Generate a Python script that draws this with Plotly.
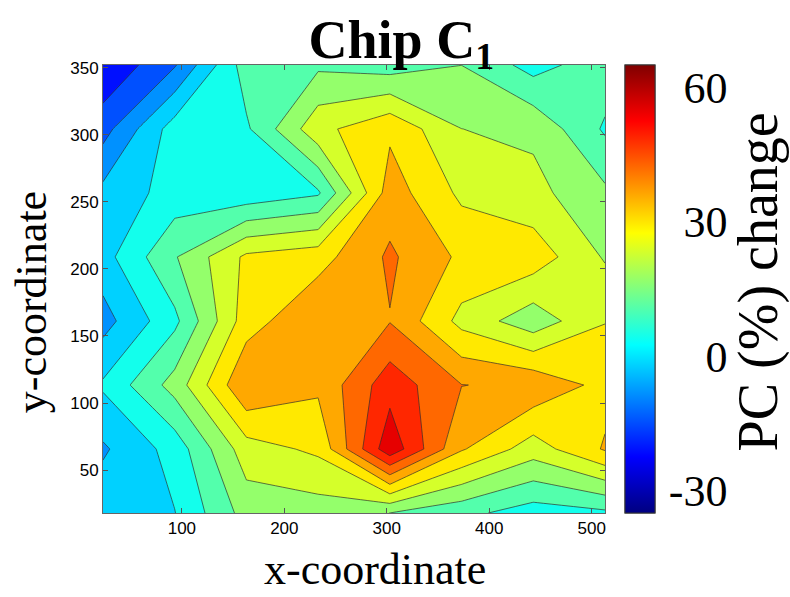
import plotly.graph_objects as go

# ---------------- data ----------------
x_coords = [23, 93, 163, 233, 303, 373, 443, 513]
y_coords = [18, 65.7, 113.4, 161.1, 208.9, 256.6, 304.3, 352]

# PC (%) change, one list per y row (bottom -> top)
pc_y18  = [-0.7,  1.0, 16.4, 17.0, 13.8,  9.4,  4.3,  6.2]
pc_y66  = [-6.1,  3.7, 23.7, 27.8, 56.3, 33.5, 23.3, 33.5]
pc_y113 = [ 2.1, 16.4, 38.9, 34.1, 49.3, 39.3, 37.9, 30.7]
pc_y161 = [-7.7,  5.9, 29.9, 38.6, 38.9, 24.5, 16.2, 26.3]
pc_y209 = [-1.3, 13.3, 27.8, 30.3, 40.2, 31.6, 30.2, 19.5]
pc_y257 = [-3.3,  3.7,  3.1,  6.6, 36.0, 25.2, 22.1, 15.1]
pc_y304 = [-14.0, 4.3,  6.5, 24.6, 31.6, 20.2, 18.9,  6.6]
pc_y352 = [-23.5, -12.1, 10.7, 12.6, 10.7, 13.8,  5.0, 11.3]

z_rows = [pc_y18, pc_y66, pc_y113, pc_y161, pc_y209, pc_y257, pc_y304, pc_y352]

x_ticks = [100, 200, 300, 400, 500]
y_ticks = [50, 100, 150, 200, 250, 300, 350]
cbar_ticks = [-30, 0, 30, 60]
# U+2004 (1/3 em) pads to the hyphen width, U+2007 to a digit width: right-aligned look
cbar_ticktext = ["-30", "\u2004\u20070", "\u200430", "\u200460"]
cbar_minor_ticks = [-23.8, -12.7, -1.5, 9.6, 20.6, 31.7, 42.9, 54.3]

c_min, c_max = -35, 65
lvl_start, lvl_size, n_levels = -17.83, 6.333, 12

# ---------------- colours ----------------
def jet(p):
    r = min(max(1.5 - abs(4 * p - 3), 0), 1)
    g = min(max(1.5 - abs(4 * p - 2), 0), 1)
    b = min(max(1.5 - abs(4 * p - 1), 0), 1)
    return f"rgb({round(255 * r)},{round(255 * g)},{round(255 * b)})"

jet_scale = [[p, jet(p)] for p in (0, 0.125, 0.375, 0.625, 0.875, 1)]
# one colour per filled band, taken from the jet map at the band centre
band_scale = []
for k in range(n_levels + 1):
    v = lvl_start - lvl_size / 2 + k * lvl_size
    band_scale.append([k / n_levels, jet((v - c_min) / (c_max - c_min))])

lvl_end = lvl_start + (n_levels - 1) * lvl_size + 0.01

fig = go.Figure()
fig.add_trace(go.Contour(
    x=x_coords, y=y_coords, z=z_rows,
    autocontour=False,
    contours=dict(start=lvl_start, end=lvl_end, size=lvl_size,
                  coloring="fill", showlines=True),
    line=dict(color="rgba(45,45,45,0.85)", width=0.8, smoothing=0),
    colorscale=band_scale, showscale=False, hoverinfo="skip",
))

bar_common = dict(x=1.0398, xanchor="left", xpad=0, ypad=0, y=0.5, yanchor="middle",
                  len=1, lenmode="fraction", thickness=30, thicknessmode="pixels",
                  outlinewidth=1, outlinecolor="#333")

# colourbar with small tick marks
fig.add_trace(go.Scatter(
    x=[x_coords[0]], y=[y_coords[0]], mode="markers", hoverinfo="skip", showlegend=False,
    marker=dict(size=1, opacity=0, color=[0], colorscale=jet_scale, cmin=c_min, cmax=c_max,
                showscale=True,
                colorbar=dict(**bar_common, tickmode="array", tickvals=cbar_minor_ticks,
                              ticks="inside", ticklen=5, tickcolor="#222",
                              showticklabels=False)),
))
# colourbar with the big labels
fig.add_trace(go.Scatter(
    x=[x_coords[0]], y=[y_coords[0]], mode="markers", hoverinfo="skip", showlegend=False,
    marker=dict(size=1, opacity=0, color=[0], colorscale=jet_scale, cmin=c_min, cmax=c_max,
                showscale=True,
                colorbar=dict(**bar_common, tickmode="array", tickvals=cbar_ticks,
                              ticktext=cbar_ticktext, ticks="outside", ticklen=5,
                              tickcolor="rgba(0,0,0,0)",
                              tickfont=dict(family="Liberation Serif", size=44, color="black"))),
))

axis_common = dict(ticks="inside", ticklen=5, tickcolor="#555", showline=True,
                   linecolor="#666", linewidth=1, mirror="ticks", showgrid=False,
                   zeroline=False,
                   tickfont=dict(family="Liberation Sans", size=17, color="black"))

fig.update_xaxes(range=[x_coords[0], x_coords[-1]], tickvals=x_ticks, **axis_common)
fig.update_yaxes(range=[y_coords[0], y_coords[-1]], tickvals=y_ticks, **axis_common)

label_font = dict(family="Liberation Serif", size=44, color="black")
fig.add_annotation(text="x-coordinate", xref="paper", yref="paper", x=0.542, y=-0.125,
                   xanchor="center", yanchor="middle", showarrow=False, font=label_font,
                   borderpad=0)
fig.add_annotation(text="y-coordinate", xref="paper", yref="paper", x=-0.141, y=0.471,
                   xanchor="center", yanchor="middle", textangle=-90, showarrow=False,
                   font=label_font)
fig.add_annotation(text="PC (%) change", xref="paper", yref="paper", x=1.305, y=0.515,
                   xanchor="center", yanchor="middle", textangle=-90, showarrow=False,
                   font=dict(family="Liberation Serif", size=56, color="black"))

fig.update_layout(
    width=790, height=597,
    margin=dict(l=103, r=185, t=65, b=84, autoexpand=False),
    paper_bgcolor="white", plot_bgcolor="white",
    showlegend=False,
    title=dict(text="<b>Chip C<sub>1</sub></b>", x=0.508, xanchor="center", xref="container",
               y=0.935, yanchor="middle", yref="container",
               font=dict(family="Liberation Serif", size=54, color="black")),
)

fig.write_html("out.html")
